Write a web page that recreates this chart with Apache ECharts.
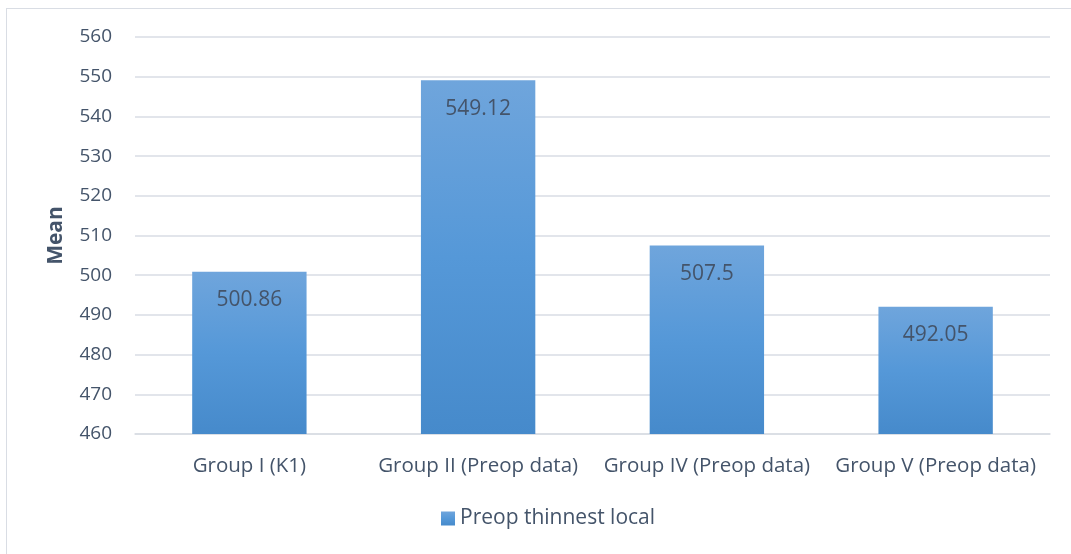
<!DOCTYPE html>
<html>
<head>
<meta charset="utf-8">
<script src="https://cdn.jsdelivr.net/npm/echarts@6/dist/echarts.min.js"></script>
<style>
  html, body { margin: 0; padding: 0; background: #fff; }
  #frame { position: absolute; left: 6px; top: 8px; width: 1100px; height: 600px; border: 1.5px solid #d9dde4; }
  #chart { position: absolute; left: 0; top: 0; width: 1071px; height: 554px; }
</style>
</head>
<body>
<div id="frame"></div>
<div id="chart"></div>
<script>
const categories = ['Group I (K1)', 'Group II (Preop data)', 'Group IV (Preop data)', 'Group V (Preop data)'];
const preopThinnest = [500.86, 549.12, 507.5, 492.05];
const seriesName = 'Preop thinnest local';
const yTicks = { min: 460, max: 560, interval: 10 };

const textColor = '#44546a';
const fontFamily = '"Open Sans", "Noto Sans", sans-serif';

const chart = echarts.init(document.getElementById('chart'), null, { renderer: 'canvas' });

chart.setOption({
  animation: false,
  textStyle: { fontFamily: fontFamily },
  grid: { left: 135, right: 21, top: 37, bottom: 120 },
  legend: {
    bottom: 20,
    left: 436,
    itemWidth: 14,
    itemHeight: 14,
    itemGap: 6,
    icon: 'rect',
    textStyle: { color: textColor, fontSize: 21, fontFamily: fontFamily },
    data: [seriesName]
  },
  xAxis: {
    type: 'category',
    data: categories,
    axisLine: { lineStyle: { color: '#d9dde4', width: 1.5 } },
    axisTick: { show: false },
    axisLabel: { color: textColor, fontSize: 20.5, margin: 22, interval: 0 }
  },
  yAxis: {
    type: 'value',
    min: yTicks.min,
    max: yTicks.max,
    interval: yTicks.interval,
    name: 'Mean',
    nameLocation: 'middle',
    nameGap: 68,
    nameTextStyle: { color: textColor, fontSize: 21, fontWeight: 'bold' },
    axisLine: { show: false },
    axisTick: { show: false },
    axisLabel: { color: textColor, fontSize: 19, margin: 23 },
    splitLine: { lineStyle: { color: '#d9dde4', width: 1.5 } }
  },
  series: [{
    name: seriesName,
    type: 'bar',
    data: preopThinnest,
    barCategoryGap: '50%',
    itemStyle: {
      color: new echarts.graphic.LinearGradient(0, 0, 0, 1, [
        { offset: 0, color: '#6fa5dc' },
        { offset: 0.5, color: '#5598d8' },
        { offset: 1, color: '#468acb' }
      ])
    },
    label: {
      show: true,
      position: 'insideTop',
      distance: 18,
      color: textColor,
      fontSize: 21,
      formatter: (p) => String(p.value)
    }
  }]
});
</script>
</body>
</html>
